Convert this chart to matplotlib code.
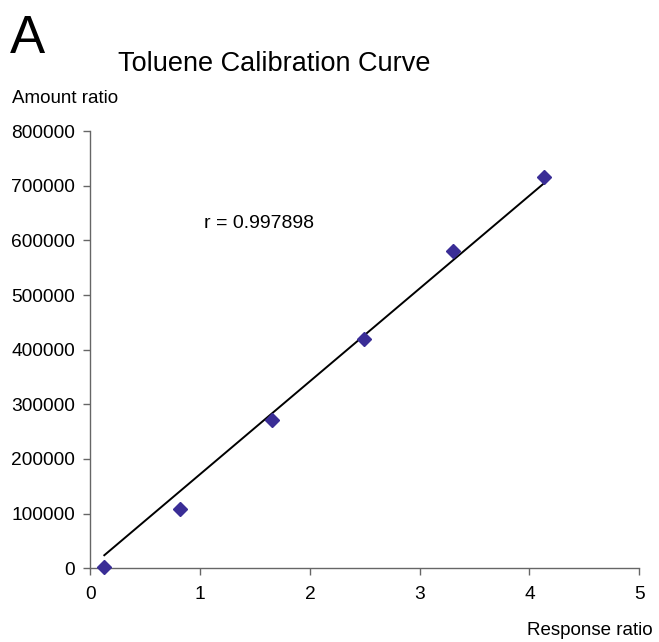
import matplotlib
matplotlib.use("Agg")
import numpy as np
import matplotlib.pyplot as plt

plt.rcParams["font.family"] = ["Liberation Sans", "DejaVu Sans"]

# calibration points
response_ratio = [0.126, 0.816, 1.655, 2.49, 3.307, 4.134]
amount_ratio = [2000, 109000, 271000, 419000, 580000, 716000]

# trend line as drawn in the original chart
trend_slope = 169800
trend_intercept = 2500

x_ticks = [0, 1, 2, 3, 4, 5]
y_ticks = [0, 100000, 200000, 300000, 400000, 500000, 600000, 700000, 800000]

r_label = "r = 0.997898"

fig = plt.figure(figsize=(6.59, 6.42), dpi=100)
ax = fig.add_axes([0.1373, 0.1148, 0.8324, 0.6811])

xs = np.array([min(response_ratio), max(response_ratio)])
ax.plot(xs, trend_slope * xs + trend_intercept, color="black", lw=1.4, zorder=2)

ax.plot(response_ratio, amount_ratio, linestyle="none", marker="D",
        markersize=7.5, color="#3a2d96", zorder=3, clip_on=False)

ax.set_xlim(0, 5)
ax.set_ylim(0, 800000)
ax.set_xticks(x_ticks)
ax.set_yticks(y_ticks)
ax.set_yticklabels([str(v) for v in y_ticks])

for side in ["top", "right"]:
    ax.spines[side].set_visible(False)
for side in ["left", "bottom"]:
    ax.spines[side].set_color("#666666")
    ax.spines[side].set_linewidth(1.0)

ax.tick_params(axis="both", direction="out", length=5, width=1,
               color="#666666", labelsize=13.8)
ax.tick_params(axis="x", pad=8)
ax.tick_params(axis="y", pad=6)

ax.text(1.035, 631000, r_label, fontsize=14, va="center", ha="left")

fig.text(10 / 659, 1 - 53 / 642, "A", fontsize=38, ha="left", va="baseline")
fig.text(118 / 659, 1 - 71 / 642, "Toluene Calibration Curve", fontsize=19.5,
         ha="left", va="baseline")
fig.text(12 / 659, 1 - 103 / 642, "Amount ratio", fontsize=13.5, ha="left",
         va="baseline")
fig.text(653 / 659, 1 - 635 / 642, "Response ratio", fontsize=13.5,
         ha="right", va="baseline")

fig.savefig("out.png", dpi=100)
